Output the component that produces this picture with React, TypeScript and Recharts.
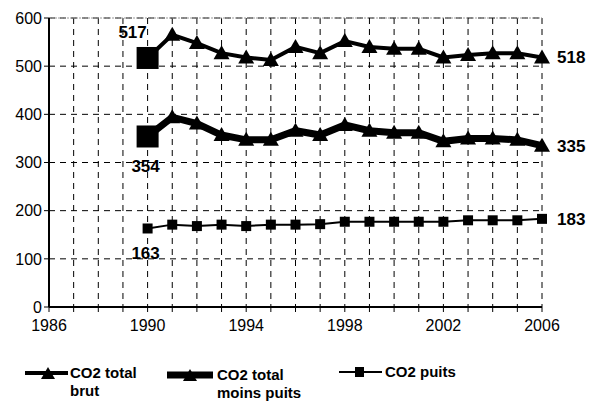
import React from 'react'
import { LineChart, Line, XAxis, YAxis, CartesianGrid, LabelList, ReferenceLine } from 'recharts'

const years = [1990, 1991, 1992, 1993, 1994, 1995, 1996, 1997, 1998, 1999, 2000, 2001, 2002, 2003, 2004, 2005, 2006]
const totalBrut = [517, 565, 548, 527, 518, 513, 540, 527, 552, 540, 536, 536, 518, 523, 527, 527, 518]
const totalMoinsPuits = [354, 394, 381, 357, 347, 347, 366, 357, 378, 366, 362, 362, 344, 350, 350, 347, 335]
const puits = [163, 171, 168, 171, 168, 171, 171, 172, 177, 177, 177, 177, 177, 180, 180, 180, 183]

const xTicks = [1986, 1987, 1988, 1989, 1990, 1991, 1992, 1993, 1994, 1995, 1996, 1997, 1998, 1999, 2000, 2001, 2002, 2003, 2004, 2005, 2006]
const xLabelled = [1986, 1990, 1994, 1998, 2002, 2006]
const yTicks = [0, 100, 200, 300, 400, 500, 600]

const data = years.map((year, i) => ({
  year,
  brut: totalBrut[i],
  moins: totalMoinsPuits[i],
  puits: puits[i],
}))

const FONT = '"Liberation Sans", Arial, sans-serif'
const LAST = years.length - 1

interface DotProps {
  cx?: number
  cy?: number
  index?: number
}

// first point of the two totals is drawn as a big square, the rest as triangles
const triangleDot = (p: DotProps) => {
  const { cx = 0, cy = 0, index = 0 } = p
  if (index === 0) {
    return <rect key={`sq-${index}`} x={cx - 11} y={cy - 11} width={22} height={22} fill="#000" />
  }
  return (
    <polygon
      key={`tr-${index}`}
      points={`${cx},${cy - 8} ${cx - 8},${cy + 6} ${cx + 8},${cy + 6}`}
      fill="#000"
    />
  )
}

const smallSquareDot = (p: DotProps) => {
  const { cx = 0, cy = 0, index = 0 } = p
  return <rect key={`ps-${index}`} x={cx - 5} y={cy - 5} width={10} height={10} fill="#000" />
}

interface LabelProps {
  x?: number | string
  y?: number | string
  value?: number | string
  index?: number
}

const endLabels = (firstDx: number, firstDy: number) => (p: LabelProps) => {
  const x = Number(p.x)
  const y = Number(p.y)
  if (p.index === 0) {
    return (
      <text x={x + firstDx} y={y + firstDy} textAnchor="middle" fontFamily={FONT} fontWeight="bold" fontSize={17} fill="#000">
        {p.value}
      </text>
    )
  }
  if (p.index === LAST) {
    return (
      <text x={x + 15} y={y + 6} textAnchor="start" fontFamily={FONT} fontWeight="bold" fontSize={17} fill="#000">
        {p.value}
      </text>
    )
  }
  return null
}

function LegendBox() {
  const text = { fontFamily: FONT, fontWeight: 'bold' as const, fontSize: 15, fill: '#000' }
  return (
    <svg width={602} height={71} style={{ position: 'absolute', left: 0, top: 340 }}>
      <line x1={25} x2={68} y1={33} y2={33} stroke="#000" strokeWidth={4} />
      <polygon points="48,27 41,39 55,39" fill="#000" />
      <text x={70} y={38} {...text}>CO2 total</text>
      <text x={70} y={56} {...text}>brut</text>

      <line x1={167} x2={213} y1={35} y2={35} stroke="#000" strokeWidth={7} />
      <polygon points="190,29 183,41 197,41" fill="#000" />
      <text x={217} y={40} {...text}>CO2 total</text>
      <text x={217} y={58} {...text}>moins puits</text>

      <line x1={339} x2={382} y1={32} y2={32} stroke="#000" strokeWidth={2} />
      <rect x={355} y={27} width={9} height={10} fill="#000" />
      <text x={385} y={37} {...text}>CO2 puits</text>
    </svg>
  )
}

export default function App() {
  return (
    <div style={{ position: 'absolute', left: 0, top: 0, width: 602, height: 411, background: '#fff' }}>
      <LineChart width={602} height={340} data={data} margin={{ top: 18, right: 60, left: 0, bottom: 3 }}>
        <CartesianGrid stroke="#000" strokeDasharray="6 5" strokeWidth={1} />
        <ReferenceLine y={600} stroke="#999" strokeDasharray="2 1" />
        <XAxis
          dataKey="year"
          type="number"
          domain={[1986, 2006]}
          ticks={xTicks}
          interval={0}
          tickFormatter={(v: number) => (xLabelled.includes(v) ? String(v) : '')}
          axisLine={{ stroke: '#000', strokeWidth: 2 }}
          tickLine={{ stroke: '#000' }}
          tickSize={5}
          tickMargin={8}
          height={30}
          tick={{ fill: '#000', fontSize: 16, fontFamily: FONT }}
        />
        <YAxis
          domain={[0, 600]}
          ticks={yTicks}
          interval={0}
          width={49}
          axisLine={{ stroke: '#000', strokeWidth: 2 }}
          tickLine={{ stroke: '#000' }}
          tickSize={5}
          tick={{ fill: '#000', fontSize: 16, fontFamily: FONT }}
        />
        <Line dataKey="brut" stroke="#000" strokeWidth={4} dot={triangleDot} isAnimationActive={false}>
          <LabelList dataKey="brut" content={endLabels(-15, -20)} />
        </Line>
        <Line dataKey="moins" stroke="#000" strokeWidth={7} dot={triangleDot} isAnimationActive={false}>
          <LabelList dataKey="moins" content={endLabels(-2, 36)} />
        </Line>
        <Line dataKey="puits" stroke="#000" strokeWidth={2} dot={smallSquareDot} isAnimationActive={false}>
          <LabelList dataKey="puits" content={endLabels(-2, 31)} />
        </Line>
      </LineChart>
      <LegendBox />
    </div>
  )
}
